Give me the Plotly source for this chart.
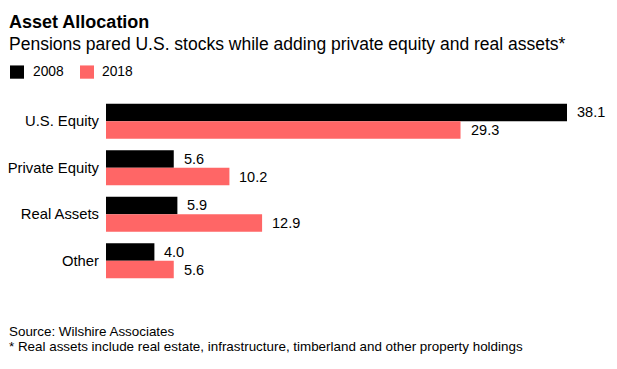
import plotly.graph_objects as go

categories = ["U.S. Equity", "Private Equity", "Real Assets", "Other"]
values_2008 = [38.1, 5.6, 5.9, 4.0]
values_2018 = [29.3, 10.2, 12.9, 5.6]
series_names = ["2008", "2018"]
colors = ["#000000", "#ff6666"]

FONT = "Liberation Sans, Arial, sans-serif"

W, H = 617, 369
plot_left, plot_right = 106, 600
plot_top, plot_bottom = 97.67, 284.33
px_per_unit = 12.1
xmax = (plot_right - plot_left) / px_per_unit

fig = go.Figure()
for name, vals, col in zip(series_names, [values_2008, values_2018], colors):
    fig.add_trace(go.Bar(
        y=categories, x=vals, name=name, orientation="h",
        marker=dict(color=col, line=dict(width=0)),
        showlegend=False, hoverinfo="x+y",
    ))

fig.update_layout(
    width=W, height=H,
    margin=dict(l=plot_left, r=W - plot_right, t=plot_top, b=H - plot_bottom, pad=0),
    paper_bgcolor="white", plot_bgcolor="white",
    barmode="group", bargap=0.243, bargroupgap=0,
    font=dict(family=FONT, size=13, color="#000000"),
    xaxis=dict(range=[0, xmax], visible=False, showgrid=False, zeroline=False),
    yaxis=dict(autorange="reversed", showgrid=False, zeroline=False, showline=False,
               ticks="", automargin=False,
               tickfont=dict(size=14.8, family=FONT, color="#000000"),
               ticklabelstandoff=6),
)

# value labels next to bars
bar_half = 8.85
for vals, yshift in [(values_2008, bar_half), (values_2018, -bar_half)]:
    for cat, v in zip(categories, vals):
        fig.add_annotation(text=f"{v:.1f}", x=v, y=cat, xref="x", yref="y",
                           xanchor="left", yanchor="middle", xshift=8, yshift=yshift,
                           showarrow=False,
                           font=dict(size=14.5, family=FONT, color="#000000"))

def px_x(x):
    return (x - plot_left) / (plot_right - plot_left)

def px_y(y):
    return (plot_bottom - y) / (plot_bottom - plot_top)

def canvas_annot(text, x, y, size):
    fig.add_annotation(text=text, xref="paper", yref="paper",
                       x=px_x(x), y=px_y(y),
                       xanchor="left", yanchor="middle", showarrow=False,
                       font=dict(size=size, family=FONT, color="#000000"))

canvas_annot("<b>Asset Allocation</b>", 7, 21.4, 18)
canvas_annot("Pensions pared U.S. stocks while adding private equity and real assets*", 7, 43.9, 17.5)
canvas_annot("Source: Wilshire Associates", 7, 331.6, 13.4)
canvas_annot("* Real assets include real estate, infrastructure, timberland and other property holdings", 7, 346.8, 13.4)

# legend (custom, to match the compact layout)
legend_items = [(10, 24, 31), (80, 94, 100)]
for (x0, x1, tx), name, col in zip(legend_items, series_names, colors):
    fig.add_shape(type="rect", xref="paper", yref="paper",
                  x0=px_x(x0), x1=px_x(x1), y0=px_y(78.3), y1=px_y(65),
                  fillcolor=col, line=dict(width=0))
    canvas_annot(name, tx, 71.2, 13.8)

fig.write_html("out.html", config={"displayModeBar": False},
               post_script="document.body.style.margin='0px';document.body.style.overflow='hidden';")
